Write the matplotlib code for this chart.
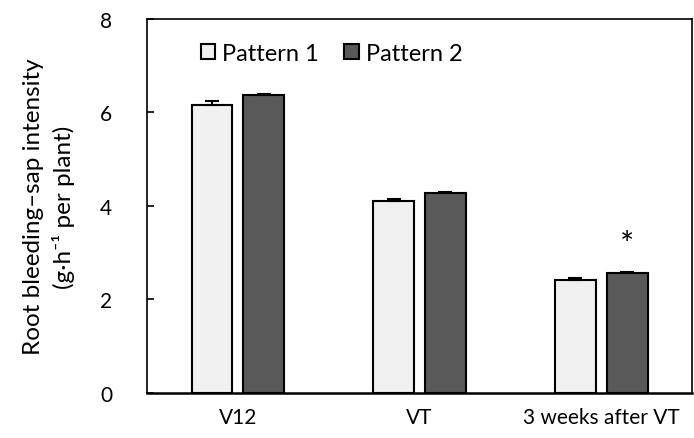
import numpy as np
import matplotlib.pyplot as plt

plt.rcParams['font.family'] = ['Lato', 'DejaVu Sans']

# data
stages = ['V12', 'VT', '3 weeks after VT']
pattern1 = [6.17, 4.11, 2.42]
pattern2 = [6.38, 4.28, 2.56]
err1 = [0.07, 0.05, 0.03]
err2 = [0.02, 0.02, 0.03]

fig = plt.figure(figsize=(6.94, 4.39), dpi=100)
ax = fig.add_axes([0.212, 0.1025, 0.785, 0.852])

x = np.arange(len(stages))
w = 0.225
off = 0.143
ax.bar(x - off, pattern1, w, color='#f0f0f0', edgecolor='black', linewidth=1.5,
       yerr=[np.zeros(3), err1], capsize=5, error_kw=dict(elinewidth=1.5, capthick=1.5),
       label='Pattern 1')
ax.bar(x + off, pattern2, w, color='#595959', edgecolor='black', linewidth=1.5,
       yerr=[np.zeros(3), err2], capsize=5, error_kw=dict(elinewidth=1.5, capthick=1.5),
       label='Pattern 2')

# significance mark
ax.text(x[2] + off, pattern2[2] + err2[2] + 0.58, '*', ha='center', va='center', fontsize=24)

ax.set_xlim(-0.5, 2.5)
ax.set_ylim(0, 8)
ax.set_yticks([0, 2, 4, 6, 8])
ax.set_xticks(x)
ax.set_xticklabels(stages, fontsize=15)
ax.tick_params(axis='y', direction='in', labelsize=15, length=5, width=1.2, pad=25)
ax.tick_params(axis='x', length=0, pad=10)
for s in ax.spines.values():
    s.set_linewidth(1.2)
ax.spines['bottom'].set_linewidth(1.8)

ax.set_ylabel('Root bleeding\u2013sap intensity\n(g\u00b7h\u207b\u00b9 per plant)', fontsize=17.5,
              labelpad=18, linespacing=1.45)

ax.legend(loc='upper left', bbox_to_anchor=(0.098, 0.935), ncol=2, frameon=False, fontsize=17,
          borderaxespad=0, borderpad=0,
          handlelength=0.6, handleheight=0.6, handletextpad=0.3, columnspacing=1.1)

fig.savefig('out.png', dpi=100)
